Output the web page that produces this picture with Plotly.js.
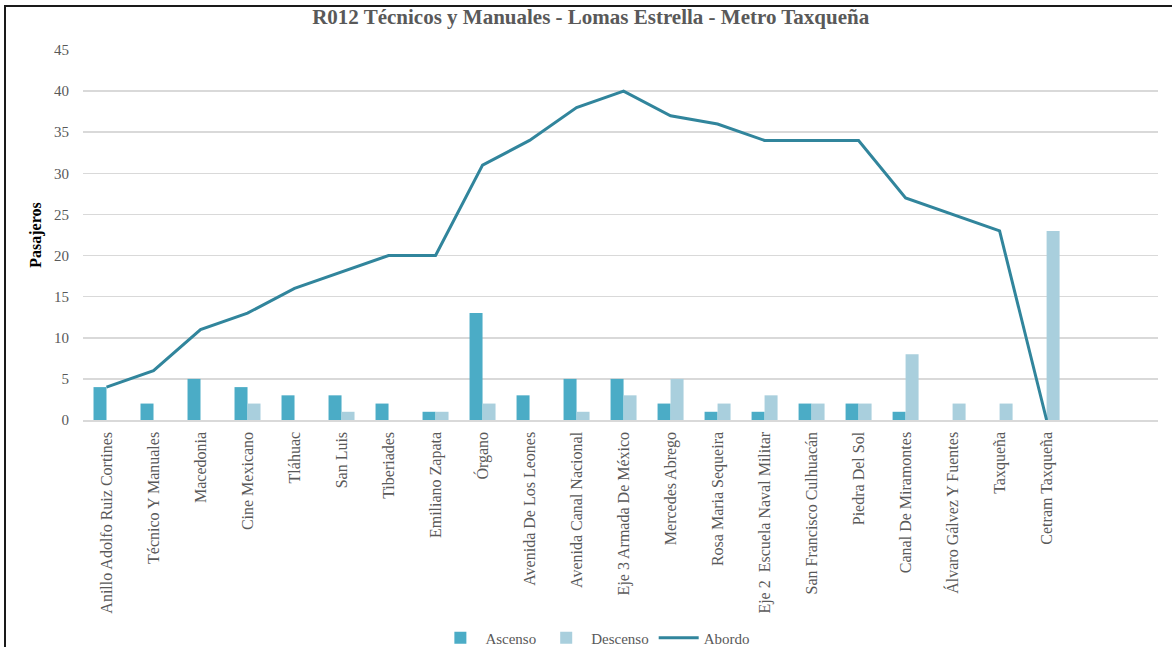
<!DOCTYPE html>
<html>
<head>
<meta charset="utf-8">
<script src="https://cdn.plot.ly/plotly-3.0.1.min.js"></script>
<style>
  html, body { margin: 0; padding: 0; background: #fff; }
  #wrap { position: relative; width: 1172px; height: 647px; overflow: hidden; }
  #chart { width: 1172px; height: 647px; }
  .frame-l { position: absolute; left: 4px; top: 5px; width: 2px; height: 642px; background: #1a1a1a; }
  .frame-t { position: absolute; left: 4px; top: 5px; width: 1168px; height: 2px; background: #1a1a1a; }
</style>
</head>
<body>
<div id="wrap">
  <div id="chart"></div>
  <div class="frame-l"></div>
  <div class="frame-t"></div>
</div>
<script>
const categories = [
  "Anillo Adolfo Ruiz Cortines", "Técnico Y Manuales", "Macedonia", "Cine Mexicano",
  "Tláhuac", "San Luis", "Tiberiades", "Emiliano Zapata", "Órgano",
  "Avenida De Los Leones", "Avenida Canal Nacional", "Eje 3 Armada De México",
  "Mercedes Abrego", "Rosa Maria Sequeira", "Eje 2  Escuela Naval Militar",
  "San Francisco Culhuacán", "Piedra Del Sol", "Canal De Miramontes",
  "Álvaro Gálvez Y Fuentes", "Taxqueña", "Cetram Taxqueña"
];
const ascenso  = [4, 2, 5, 4, 3, 3, 2, 1, 13, 3, 5, 5, 2, 1, 1, 2, 2, 1, 0, 0, 0];
const descenso = [0, 0, 0, 2, 0, 1, 0, 1, 2, 0, 1, 3, 5, 2, 3, 2, 2, 8, 2, 2, 23];
const abordo   = [4, 6, 11, 13, 16, 18, 20, 20, 31, 34, 38, 40, 37, 36, 34, 34, 34, 27, 25, 23, 0];
const yTicks = [0, 5, 10, 15, 20, 25, 30, 35, 40, 45];

const FONT = "Liberation Serif, Times New Roman, serif";

const traces = [
  { type: "bar", name: "Ascenso", x: categories, y: ascenso,
    marker: { color: "#4bacc6" } },
  { type: "bar", name: "Descenso", x: categories, y: descenso,
    marker: { color: "#a9cfdd" } },
  { type: "scatter", mode: "lines", name: "Abordo", x: categories, y: abordo,
    line: { color: "#31859c", width: 3 } }
];

const layout = {
  width: 1172, height: 647,
  margin: { l: 83, r: 14, t: 50, b: 227 },
  paper_bgcolor: "#ffffff", plot_bgcolor: "#ffffff",
  font: { family: FONT, color: "#595959", size: 14 },
  title: { text: "<b>R012 Técnicos y Manuales - Lomas Estrella - Metro Taxqueña</b>",
           x: 0.504, xref: "container", xanchor: "center",
           y: (647 - 17) / 647, yref: "container", yanchor: "middle",
           font: { family: FONT, size: 21, color: "#595959" } },
  barmode: "group", bargap: 0.447, bargroupgap: 0,
  showlegend: true,
  legend: { orientation: "h", xref: "container", x: 0.508, xanchor: "center",
            yref: "container", y: (647 - 638) / 647, yanchor: "middle",
            font: { family: FONT, size: 15, color: "#595959" },
            traceorder: "normal", itemwidth: 40 },
  xaxis: { type: "category", range: [-0.5, 22.37], tickangle: -90,
           showgrid: false, zeroline: false, showline: true, linecolor: "#d9d9d9", linewidth: 1.5,
           ticks: "outside", ticklen: 4, tickcolor: "rgba(0,0,0,0)",
           tickfont: { family: FONT, size: 16, color: "#595959" }, automargin: false },
  yaxis: { range: [0, 45], tickvals: yTicks, ticktext: yTicks.map(String),
           showgrid: true, gridcolor: "#d9d9d9", gridwidth: 1.5, zeroline: false,
           ticks: "outside", ticklen: 10, tickcolor: "rgba(0,0,0,0)",
           tickfont: { family: FONT, size: 15, color: "#595959" },
           title: { text: "<b>Pasajeros</b>", standoff: 8,
                    font: { family: FONT, size: 16, color: "#000000" } },
           automargin: false }
};

Plotly.newPlot("chart", traces, layout, { displayModeBar: false, staticPlot: true });
</script>
</body>
</html>
